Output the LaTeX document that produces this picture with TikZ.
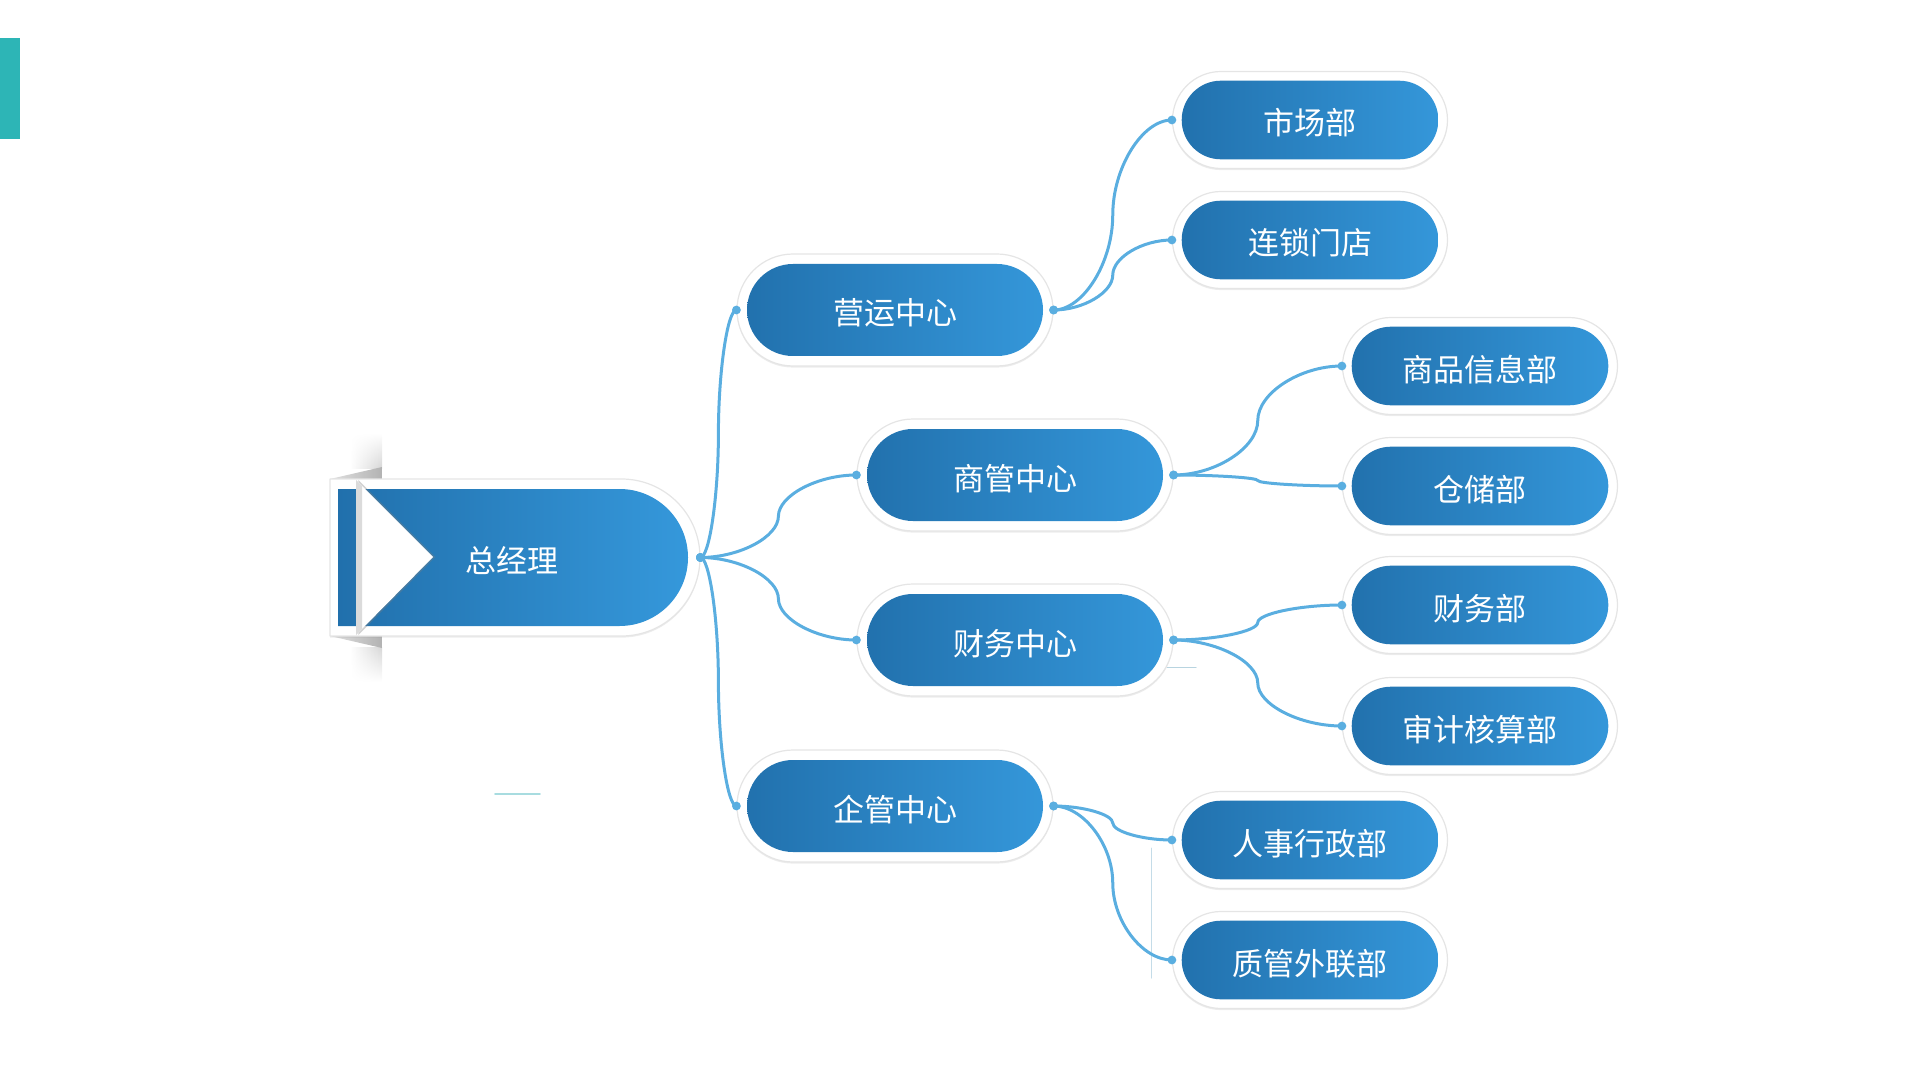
\documentclass[tikz,border=0pt]{standalone}
\usepackage{fontspec}
\setmainfont{Noto Sans CJK SC}
\usetikzlibrary{calc,shadows,fadings}
\definecolor{pilldark}{HTML}{2170AC}
\definecolor{pilllight}{HTML}{3598DB}
\definecolor{linkblue}{HTML}{5AAEE0}
\definecolor{tabteal}{HTML}{2DB5B6}
\begin{document}
\begin{tikzpicture}[x=0.5pt,y=-0.5pt,font=\fontsize{15.5pt}{18pt}\selectfont,line join=round,line cap=round]
	\tikzset{pill/.style 2 args={rectangle,fill=white,draw=black!10,line width=0.6pt,inner sep=0pt,text=white,
			text height=1.5em,text depth=0em,
			drop shadow={shadow xshift=0pt,shadow yshift=-0.8pt,opacity=0.15},
			path picture={\shade[left color=pilldark,right color=pilllight,rounded corners=#2]
				([shift={(#1,-#1)}]path picture bounding box.north west) rectangle
				([shift={(-#1,#1)}]path picture bounding box.south east);}},
		hub/.style={pill={5pt}{23pt},minimum width=158pt,minimum height=56pt,rounded corners=28pt},
		leaf/.style={pill={4.6pt}{19.6pt},minimum width=137.5pt,minimum height=48.5pt,rounded corners=24.25pt},
		link/.style={draw=linkblue,line width=1.5pt},
		branch/.style={to path={let \p1=(\tikztostart),\p2=(\tikztotarget) in
				.. controls ({(3*\x1+\x2)/4},\y1) and ({(\x1+\x2)/2},{(3*\y1+\y2)/4}) .. ({(\x1+\x2)/2},{(\y1+\y2)/2})
				.. controls ({(\x1+\x2)/2},{(\y1+3*\y2)/4}) and ({(\x1+3*\x2)/4},\y2) .. (\tikztotarget)}}}
	\useasboundingbox (0,0) rectangle (1920,1080);
	\fill[tabteal] (0,38) rectangle (20,139);
	% faint guide lines
	\draw[line width=0.8pt,color={rgb,255:red,168;green,220;blue,224}] (495,794) -- (540,794);
	\draw[line width=0.5pt,color={rgb,255:red,184;green,212;blue,224}] (1167,667) -- (1196,667);
	\draw[line width=0.5pt,color={rgb,255:red,196;green,220;blue,232}] (1151,848) -- (1151,978);
	% general manager tab
	\shade[left color=white,right color=black!16,path fading=north] (350,433) rectangle (382,468);
	\shade[left color=white,right color=black!16,path fading=south] (350,647) rectangle (382,682);
	\shade[left color=black!12,right color=black!30] (330,479) -- (382,467) -- (382,479) -- cycle;
	\shade[left color=black!12,right color=black!30] (330,636) -- (382,648) -- (382,636) -- cycle;
	\filldraw[fill=white,draw=black!10,line width=0.6pt,drop shadow={shadow xshift=0pt,shadow yshift=-0.8pt,opacity=0.15}]
		(330,479) -- (621.5,479) arc[start angle=90,end angle=-90,radius=39.25pt] -- (330,636) -- cycle;
	\shade[left color=pilldark,right color=pilllight]
		(338,489) -- (619.5,489) arc[start angle=90,end angle=-90,radius=34.25pt] -- (338,626) -- cycle;
	\fill[white,drop shadow={shadow xshift=1.2pt,shadow yshift=0pt,opacity=0.35}]
		(356,480) -- (433,557) -- (356,635) -- cycle;
	\fill[black!14] (356,480) -- (362,486) -- (362,629) -- (356,635) -- cycle;
	\node[text=white,inner sep=0pt,text height=1.5em,text depth=0em,minimum width=188pt,minimum height=78.5pt] (gm) at (512,557.5) {总经理};
	% centres
	\node[hub] (yy) at (895,310) {营运中心};
	\node[hub] (sg) at (1015,475) {商管中心};
	\node[hub] (cw) at (1015,640) {财务中心};
	\node[hub] (qg) at (895,806) {企管中心};
	% departments
	\node[leaf] (sc) at (1310,120) {市场部};
	\node[leaf] (ls) at (1310,240) {连锁门店};
	\node[leaf] (sp) at (1480,366) {商品信息部};
	\node[leaf] (cc) at (1480,486) {仓储部};
	\node[leaf] (cwb) at (1480,605) {财务部};
	\node[leaf] (sj) at (1480,726) {审计核算部};
	\node[leaf] (rs) at (1310,840) {人事行政部};
	\node[leaf] (zg) at (1310,960) {质管外联部};
	\foreach \a/\b in {gm/yy,gm/sg,gm/cw,gm/qg,yy/sc,yy/ls,sg/sp,sg/cc,cw/cwb,cw/sj,qg/rs,qg/zg}{
		\draw[link] (\a.east) to[branch] (\b.west);
		\fill[linkblue] (\a.east) circle[radius=2.2pt] (\b.west) circle[radius=2.2pt];
	}
\end{tikzpicture}
\end{document}
